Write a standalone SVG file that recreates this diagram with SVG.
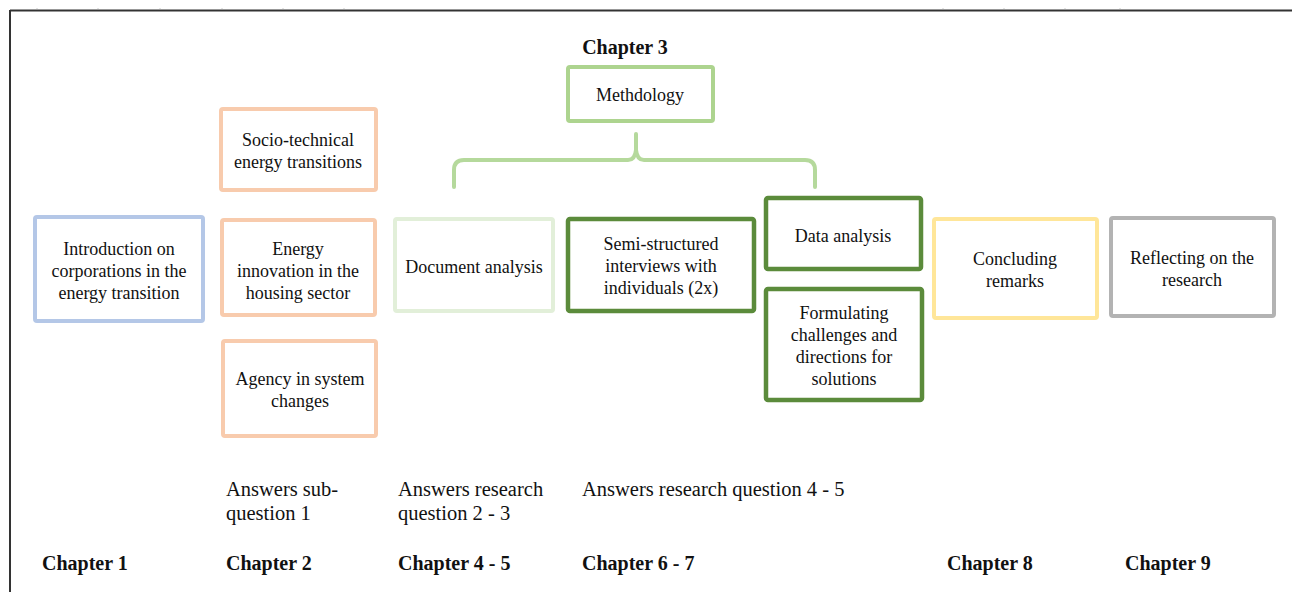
<svg xmlns="http://www.w3.org/2000/svg" width="1292" height="592" viewBox="0 0 1292 592">
  <style>
    .box { fill: #ffffff; stroke-width: 4; }
    .blue { stroke: #b4c7e7; }
    .orange { stroke: #f8cbad; }
    .pale { stroke: #e2efd9; }
    .dark { stroke: #5b8b3b; stroke-width: 4.5; }
    .light { stroke: #add48f; }
    .yellow { stroke: #ffe699; }
    .grey { stroke: #b3b3b3; }
    .t { font-family: "Liberation Serif", "Times New Roman", serif; font-size: 18px; fill: #111111; text-anchor: middle; }
    .lbl { font-family: "Liberation Serif", "Times New Roman", serif; font-size: 20.5px; fill: #111111; }
    .ch { font-family: "Liberation Serif", "Times New Roman", serif; font-size: 20px; font-weight: bold; fill: #111111; }
  </style>

  <rect width="1292" height="592" fill="#ffffff"/>

  <!-- page frame with ruler ticks -->
  <g id="frame">
    <line x1="10" y1="10.5" x2="1292" y2="10.5" stroke="#333333" stroke-width="2"/>
    <line x1="10" y1="10" x2="10" y2="592" stroke="#333333" stroke-width="2"/>
    <g stroke="#cccccc" stroke-width="1">
      <line x1="37" y1="8" x2="37" y2="9"/>
      <line x1="98" y1="8" x2="98" y2="9"/>
      <line x1="160" y1="8" x2="160" y2="9"/>
      <line x1="222" y1="8" x2="222" y2="9"/>
      <line x1="283" y1="8" x2="283" y2="9"/>
      <line x1="344" y1="8" x2="344" y2="9"/>
      <line x1="943" y1="8" x2="943" y2="9"/>
      <line x1="1004" y1="8" x2="1004" y2="9"/>
      <line x1="1065" y1="8" x2="1065" y2="9"/>
      <line x1="1120" y1="8" x2="1120" y2="9"/>
    </g>
  </g>

  <!-- brace linking methodology to the analyses -->
  <g id="connectors">
    <path d="M454,187 V170 Q454,160 464,160 H628 Q635,160 636,150 V134 V150 Q637,160 644,160 H805 Q815,160 815,170 V187" fill="none" stroke="#b5d99c" stroke-width="4" stroke-linejoin="round" stroke-linecap="round"/>
  </g>

  <g id="chapter3-title">
    <text class="ch" x="625" y="54" text-anchor="middle">Chapter 3</text>
  </g>

  <g id="methodology">
    <rect class="box light" x="568" y="67" width="145" height="54" rx="2"/>
    <text class="t" x="640" y="101">Methdology</text>
  </g>

  <g id="introduction">
    <rect class="box blue" x="35" y="217" width="168" height="104" rx="2"/>
    <text class="t" x="119" y="255">Introduction on</text>
    <text class="t" x="119" y="277">corporations in the</text>
    <text class="t" x="119" y="299">energy transition</text>
  </g>

  <g id="socio-technical">
    <rect class="box orange" x="221" y="109" width="155" height="81" rx="2"/>
    <text class="t" x="298" y="146">Socio-technical</text>
    <text class="t" x="298" y="168">energy transitions</text>
  </g>

  <g id="energy-innovation">
    <rect class="box orange" x="222" y="220" width="153" height="95" rx="2"/>
    <text class="t" x="298" y="255">Energy</text>
    <text class="t" x="298" y="277">innovation in the</text>
    <text class="t" x="298" y="299">housing sector</text>
  </g>

  <g id="agency">
    <rect class="box orange" x="223" y="341" width="153" height="95" rx="2"/>
    <text class="t" x="300" y="385">Agency in system</text>
    <text class="t" x="300" y="407">changes</text>
  </g>

  <g id="document-analysis">
    <rect class="box pale" x="395" y="219" width="158" height="92" rx="2"/>
    <text class="t" x="474" y="273">Document analysis</text>
  </g>

  <g id="interviews">
    <rect class="box dark" x="568" y="219" width="186" height="92" rx="2"/>
    <text class="t" x="661" y="250">Semi-structured</text>
    <text class="t" x="661" y="272">interviews with</text>
    <text class="t" x="661" y="294">individuals (2x)</text>
  </g>

  <g id="data-analysis">
    <rect class="box dark" x="766" y="198" width="155" height="71" rx="2"/>
    <text class="t" x="843" y="242">Data analysis</text>
  </g>

  <g id="formulating">
    <rect class="box dark" x="766" y="289" width="156" height="111" rx="2"/>
    <text class="t" x="844" y="319">Formulating</text>
    <text class="t" x="844" y="341">challenges and</text>
    <text class="t" x="844" y="363">directions for</text>
    <text class="t" x="844" y="385">solutions</text>
  </g>

  <g id="concluding">
    <rect class="box yellow" x="934" y="219" width="163" height="99" rx="2"/>
    <text class="t" x="1015" y="265">Concluding</text>
    <text class="t" x="1015" y="287">remarks</text>
  </g>

  <g id="reflecting">
    <rect class="box grey" x="1111" y="218" width="163" height="98" rx="2"/>
    <text class="t" x="1192" y="264">Reflecting on the</text>
    <text class="t" x="1192" y="286">research</text>
  </g>

  <g id="answers">
    <text class="lbl" x="226" y="496">Answers sub-</text>
    <text class="lbl" x="226" y="520">question 1</text>
    <text class="lbl" x="398" y="496">Answers research</text>
    <text class="lbl" x="398" y="520">question 2 - 3</text>
    <text class="lbl" x="582" y="496">Answers research question 4 - 5</text>
  </g>

  <g id="chapters">
    <text class="ch" x="42" y="570">Chapter 1</text>
    <text class="ch" x="226" y="570">Chapter 2</text>
    <text class="ch" x="398" y="570">Chapter 4 - 5</text>
    <text class="ch" x="582" y="570">Chapter 6 - 7</text>
    <text class="ch" x="947" y="570">Chapter 8</text>
    <text class="ch" x="1125" y="570">Chapter 9</text>
  </g>
</svg>
